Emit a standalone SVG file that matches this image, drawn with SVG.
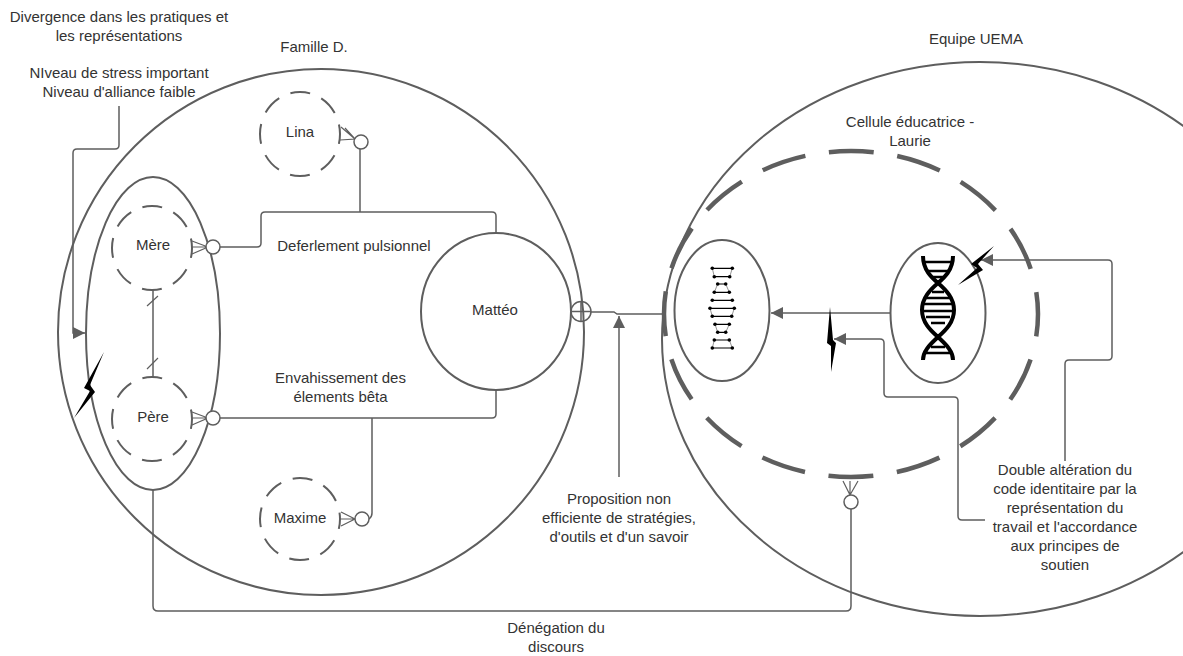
<svg xmlns="http://www.w3.org/2000/svg" width="1183" height="656" viewBox="0 0 1183 656">
<style>
text{font-family:"Liberation Sans",Arial,sans-serif;font-size:15px;fill:#333;text-anchor:middle}
.s{fill:none;stroke:#5e5e5e;stroke-width:2}
.c{fill:none;stroke:#5e5e5e;stroke-width:1.5}
.f{fill:none;stroke:#5e5e5e;stroke-width:1.2}
.d{fill:none;stroke:#5e5e5e;stroke-width:2;stroke-dasharray:20 12.2;stroke-dashoffset:10}
.o{fill:#fff;stroke:#5e5e5e;stroke-width:1.5}
.b{fill:#000;stroke:none}
.p{fill:#000}
</style>
<defs>
<marker id="a" markerWidth="14" markerHeight="14" refX="12" refY="7" orient="auto" markerUnits="userSpaceOnUse"><path d="M0,1L12,7L0,13Z" fill="#5e5e5e"/></marker>
</defs>
<rect width="1183" height="656" fill="#fff"/>
<g id="famille"><circle class="s" cx="321" cy="332" r="263"/><text x="314" y="52">Famille D.</text></g>
<g id="equipe"><ellipse class="s" cx="980" cy="339" rx="318" ry="277"/><text x="976" y="44">Equipe UEMA</text></g>
<g id="cellule"><ellipse cx="851" cy="314" rx="187" ry="163" fill="none" stroke="#5e5e5e" stroke-width="4.5" stroke-dasharray="45 23.8" stroke-dashoffset="22.5"/><text x="910" y="127">Cellule éducatrice -</text><text x="910" y="146">Laurie</text></g>
<g id="parents"><ellipse class="s" cx="153" cy="333.5" rx="67" ry="156.5"/></g>
<g id="mere"><ellipse class="d" cx="152" cy="248" rx="40" ry="42"/><text x="153" y="250">Mère</text></g>
<g id="pere"><ellipse class="d" cx="152" cy="419" rx="40" ry="42"/><text x="153" y="422">Père</text></g>
<g id="lina"><ellipse class="d" cx="300" cy="134" rx="40" ry="42"/><text x="300" y="137">Lina</text></g>
<g id="maxime"><ellipse class="d" cx="300" cy="519" rx="40" ry="41"/><text x="300" y="523">Maxime</text></g>
<g id="matteo"><ellipse class="s" cx="496" cy="311.5" rx="75" ry="78.5"/><text x="495" y="315">Mattéo</text></g>
<g id="adn-gauche"><ellipse class="s" cx="722" cy="310.5" rx="47.5" ry="70.5"/>
<path fill="none" stroke="#000" stroke-width="1.2" d="M712.3,268.3H732.3M714.3,276.7H729.7M717.7,284H725.7M714.3,292.3H729.3M712.3,300.3H732.3M710,308.3H734.3M712.3,316.3H731.7M715,324.3H729.3M717.7,332.3H725.7M714.3,340H729.3M712.3,348H732.3"/>
<path fill="none" stroke="#666" stroke-width="0.7" d="M712.3,268.3L714.3,276.7M732.3,268.3L729.7,276.7M717.7,284L714.3,292.3M725.7,284L729.3,292.3M710,308.3L712.3,316.3M734.3,308.3L731.7,316.3M715,324.3L717.7,332.3M729.3,324.3L725.7,332.3M714.3,340L712.3,348M729.3,340L732.3,348"/>
<g class="p"><circle cx="712.3" cy="268.3" r="1.8"/><circle cx="732.3" cy="268.3" r="1.8"/><circle cx="714.3" cy="276.7" r="1.8"/><circle cx="729.7" cy="276.7" r="1.8"/><circle cx="717.7" cy="284" r="1.8"/><circle cx="725.7" cy="284" r="1.8"/><circle cx="714.3" cy="292.3" r="1.8"/><circle cx="729.3" cy="292.3" r="1.8"/><circle cx="712.3" cy="300.3" r="1.8"/><circle cx="732.3" cy="300.3" r="1.8"/><circle cx="710" cy="308.3" r="1.8"/><circle cx="734.3" cy="308.3" r="1.8"/><circle cx="712.3" cy="316.3" r="1.8"/><circle cx="731.7" cy="316.3" r="1.8"/><circle cx="715" cy="324.3" r="1.8"/><circle cx="729.3" cy="324.3" r="1.8"/><circle cx="717.7" cy="332.3" r="1.8"/><circle cx="725.7" cy="332.3" r="1.8"/><circle cx="714.3" cy="340" r="1.8"/><circle cx="729.3" cy="340" r="1.8"/><circle cx="712.3" cy="348" r="1.8"/><circle cx="732.3" cy="348" r="1.8"/></g></g>
<g id="adn-droite"><ellipse class="s" cx="938" cy="313" rx="47.5" ry="70"/>
<path fill="none" stroke="#000" stroke-width="4" d="M923,256C923,270 932,278 938,283C946,290 954,298 954,310C954,322 946,330 938,337C932,343 923,350 923,360M953,256C953,270 944,278 938,283C930,290 922,298 922,310C922,322 930,330 938,337C944,343 953,350 953,360"/>
<path stroke="#000" stroke-width="2.5" fill="none" d="M925,262H951M928,271H948M933,277H943M932,292H944M926,298H950M923,304H953M923,311H953M926,317H950M931,323H945M931,347H945M926,353H950"/></g>
<g id="connecteurs">
<path class="c" d="M119,106V145Q119,149 115,149H77Q73,149 73,153V333H85" marker-end="url(#a)"/>
<path class="c" d="M220,247H257Q261,247 261,243V216Q261,212 265,212H492Q496,212 496,216V233"/>
<path class="c" d="M360,149V212"/>
<path class="c" d="M220,418H492Q496,418 496,414V390"/>
<path class="c" d="M372,418V513Q372,517 369,519"/>
<path class="c" d="M153,290V377"/><path class="f" d="M147,306L158,296M147,369L158,358"/>
<path class="f" d="M192,241L208,247L192,254M192,247H208"/>
<path class="f" d="M192,412L208,418L192,425M192,418H208"/>
<path class="f" d="M341,127L355,139L340,140M345,128L355,139"/>
<path class="f" d="M341,512L355,519L341,526M340,519H355"/>
<path class="f" d="M843,481L850,495L858,481M850,481V495"/>
<circle class="o" cx="213" cy="247" r="7"/><circle class="o" cx="213" cy="418" r="7"/><circle class="o" cx="361" cy="142" r="7"/><circle class="o" cx="362" cy="519" r="7"/><circle class="o" cx="851" cy="502" r="7"/>
<circle class="c" cx="581" cy="311.5" r="10"/><path class="c" d="M571,311.5H591M581,301.5V321.5"/>
<path class="c" d="M591,312H614L617,314H662"/>
<path class="c" d="M619,477V316" marker-end="url(#a)"/>
<path class="c" d="M890,313H771" marker-end="url(#a)"/>
<path class="c" d="M153,490V606Q153,611 158,611H846Q851,611 851,606V509"/>
<path class="c" d="M1065,461V364Q1065,360 1069,360H1108Q1112,360 1112,356V264Q1112,260 1108,260H981" marker-end="url(#a)"/>
<path class="c" d="M985,520H962Q958,520 958,516V401Q958,397 954,397H888Q884,397 884,393V343Q884,339 880,339H834" marker-end="url(#a)"/>
</g>
<path class="b" d="M104,352L84,388L90,391L74,418L95,392L90,385Z"/>
<path class="b" d="M994,246L971,264L977,268L958,285L983,270L978,264Z"/>
<path class="b" d="M830,307L827,343L831,346L831,372L836,343L833,340Z"/>
<g id="textes">
<text x="119" y="22">Divergence dans les pratiques et</text><text x="119" y="41">les représentations</text>
<text x="119" y="78">NIveau de stress important</text><text x="119" y="97">Niveau d'alliance faible</text>
<text x="354" y="251">Deferlement pulsionnel</text>
<text x="340.5" y="383">Envahissement des</text><text x="340.5" y="402">élements bêta</text>
<text x="619" y="504">Proposition non</text><text x="619" y="523">efficiente de stratégies,</text><text x="619" y="542">d'outils et d'un savoir</text>
<text x="1065" y="475">Double altération du</text><text x="1065" y="494">code identitaire par la</text><text x="1065" y="513">représentation du</text><text x="1065" y="532">travail et l'accordance</text><text x="1065" y="551">aux principes de</text><text x="1065" y="570">soutien</text>
<text x="556" y="633">Dénégation du</text><text x="556" y="652">discours</text>
</g>
</svg>
